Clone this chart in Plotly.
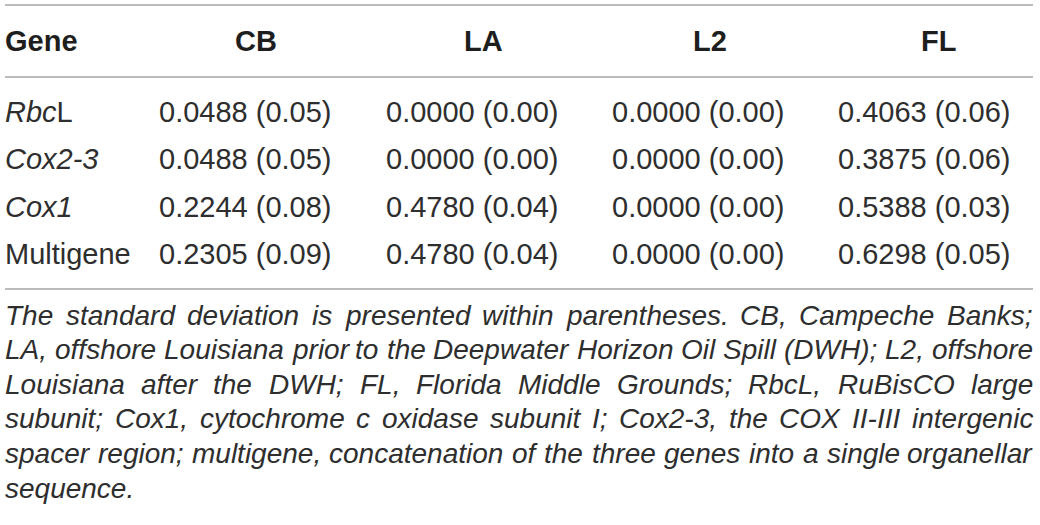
import plotly.graph_objects as go

# ---------------- data ----------------
columns = ["Gene", "CB", "LA", "L2", "FL"]
gene_labels = ["<i>Rbc</i>L", "<i>Cox2-3</i>", "<i>Cox1</i>", "Multigene"]
cb_mean = [0.0488, 0.0488, 0.2244, 0.2305]
cb_sd = [0.05, 0.05, 0.08, 0.09]
la_mean = [0.0000, 0.0000, 0.4780, 0.4780]
la_sd = [0.00, 0.00, 0.04, 0.04]
l2_mean = [0.0000, 0.0000, 0.0000, 0.0000]
l2_sd = [0.00, 0.00, 0.00, 0.00]
fl_mean = [0.4063, 0.3875, 0.5388, 0.6298]
fl_sd = [0.06, 0.06, 0.03, 0.05]

footnote_lines = [
    "The standard deviation is presented within parentheses. CB, Campeche Banks;",
    "LA, offshore Louisiana prior to the Deepwater Horizon Oil Spill (DWH); L2, offshore",
    "Louisiana after the DWH; FL, Florida Middle Grounds; RbcL, RuBisCO large",
    "subunit; Cox1, cytochrome c oxidase subunit I; Cox2-3, the COX II-III intergenic",
    "spacer region; multigene, concatenation of the three genes into a single organellar",
    "sequence.",
]

# ---------------- layout constants ----------------
W, H = 1040, 525
LEFT, RIGHT = 5, 1033
TEXT = "#2e2e2e"
RULE = "#a6a6a6"
FONT = "Liberation Sans, Arial, Helvetica, sans-serif"

HELV = {' ': 278, '!': 278, '"': 355, '#': 556, '$': 556, '%': 889, '&': 667, "'": 191,
        '(': 333, ')': 333, '*': 389, '+': 584, ',': 278, '-': 333, '.': 278, '/': 278,
        ':': 278, ';': 278, '<': 584, '=': 584, '>': 584, '?': 556, '@': 1015,
        'A': 667, 'B': 667, 'C': 722, 'D': 722, 'E': 667, 'F': 611, 'G': 778, 'H': 722,
        'I': 278, 'J': 500, 'K': 667, 'L': 556, 'M': 833, 'N': 722, 'O': 778, 'P': 667,
        'Q': 778, 'R': 722, 'S': 667, 'T': 611, 'U': 722, 'V': 667, 'W': 944, 'X': 667,
        'Y': 667, 'Z': 611, 'a': 556, 'b': 556, 'c': 500, 'd': 556, 'e': 556, 'f': 278,
        'g': 556, 'h': 556, 'i': 222, 'j': 222, 'k': 500, 'l': 222, 'm': 833, 'n': 556,
        'o': 556, 'p': 556, 'q': 556, 'r': 333, 's': 500, 't': 278, 'u': 556, 'v': 500,
        'w': 722, 'x': 500, 'y': 500, 'z': 500}
for d in "0123456789":
    HELV[d] = 556


def text_width(s, size):
    return sum(HELV.get(c, 556) for c in s) / 1000.0 * size


fig = go.Figure()
annotations = []

# header row
HEADER_Y = 41
ROW_Y0, ROW_DY = 112, 47.3
COL_LEFT = [159, 386, 612, 838]
COL_HEAD_CENTER = [256, 483, 710, 938]
TABLE_SIZE = 29

annotations.append(dict(x=LEFT, y=HEADER_Y, text="<b>" + columns[0] + "</b>", xanchor="left",
                        yanchor="middle", font=dict(size=29, color="#1e1e1e", family=FONT)))
for j, name in enumerate(columns[1:]):
    annotations.append(dict(x=COL_HEAD_CENTER[j], y=HEADER_Y, text="<b>" + name + "</b>",
                            xanchor="center", yanchor="middle",
                            font=dict(size=29, color="#1e1e1e", family=FONT)))

series = [(cb_mean, cb_sd), (la_mean, la_sd), (l2_mean, l2_sd), (fl_mean, fl_sd)]
for i, g in enumerate(gene_labels):
    y = ROW_Y0 + i * ROW_DY
    annotations.append(dict(x=LEFT, y=y, text=g, xanchor="left", yanchor="middle",
                            font=dict(size=TABLE_SIZE, color=TEXT, family=FONT)))
    for j, (m, s) in enumerate(series):
        annotations.append(dict(x=COL_LEFT[j], y=y, text=f"{m[i]:.4f} ({s[i]:.2f})",
                                xanchor="left", yanchor="middle",
                                font=dict(size=TABLE_SIZE, color=TEXT, family=FONT)))

# rules
shapes = []
for yy in [5, 77, 289]:
    shapes.append(dict(type="line", x0=LEFT, x1=RIGHT, y0=yy, y1=yy, xref="x", yref="y",
                       line=dict(color=RULE, width=1.6)))

# footnote (justified)
FN_SIZE = 28
FN_Y0, FN_DY = 315, 34.6
for k, line in enumerate(footnote_lines):
    y = FN_Y0 + k * FN_DY
    words = line.split(" ")
    widths = [text_width(w, FN_SIZE) for w in words]
    last = k == len(footnote_lines) - 1
    if last or len(words) == 1:
        gap = text_width(" ", FN_SIZE)
    else:
        gap = (RIGHT - LEFT - sum(widths)) / (len(words) - 1)
    x = LEFT
    for n, (w, wd) in enumerate(zip(words, widths)):
        if not last and n == len(words) - 1 and len(words) > 1:
            annotations.append(dict(x=RIGHT, y=y, text="<i>" + w + "</i>", xanchor="right",
                                    yanchor="middle",
                                    font=dict(size=FN_SIZE, color=TEXT, family=FONT)))
        else:
            annotations.append(dict(x=x, y=y, text="<i>" + w + "</i>", xanchor="left",
                                    yanchor="middle",
                                    font=dict(size=FN_SIZE, color=TEXT, family=FONT)))
        x += wd + gap

for a in annotations:
    a.update(xref="x", yref="y", showarrow=False, borderpad=0, borderwidth=0)

fig.update_layout(
    width=W, height=H,
    margin=dict(l=0, r=0, t=0, b=0),
    paper_bgcolor="white", plot_bgcolor="white",
    xaxis=dict(range=[0, W], visible=False, fixedrange=True),
    yaxis=dict(range=[H, 0], visible=False, fixedrange=True),
    annotations=annotations, shapes=shapes,
    showlegend=False,
)

fig.write_html("out.html", config={"displayModeBar": False, "staticPlot": True},
               post_script="document.body.style.margin='0';")
